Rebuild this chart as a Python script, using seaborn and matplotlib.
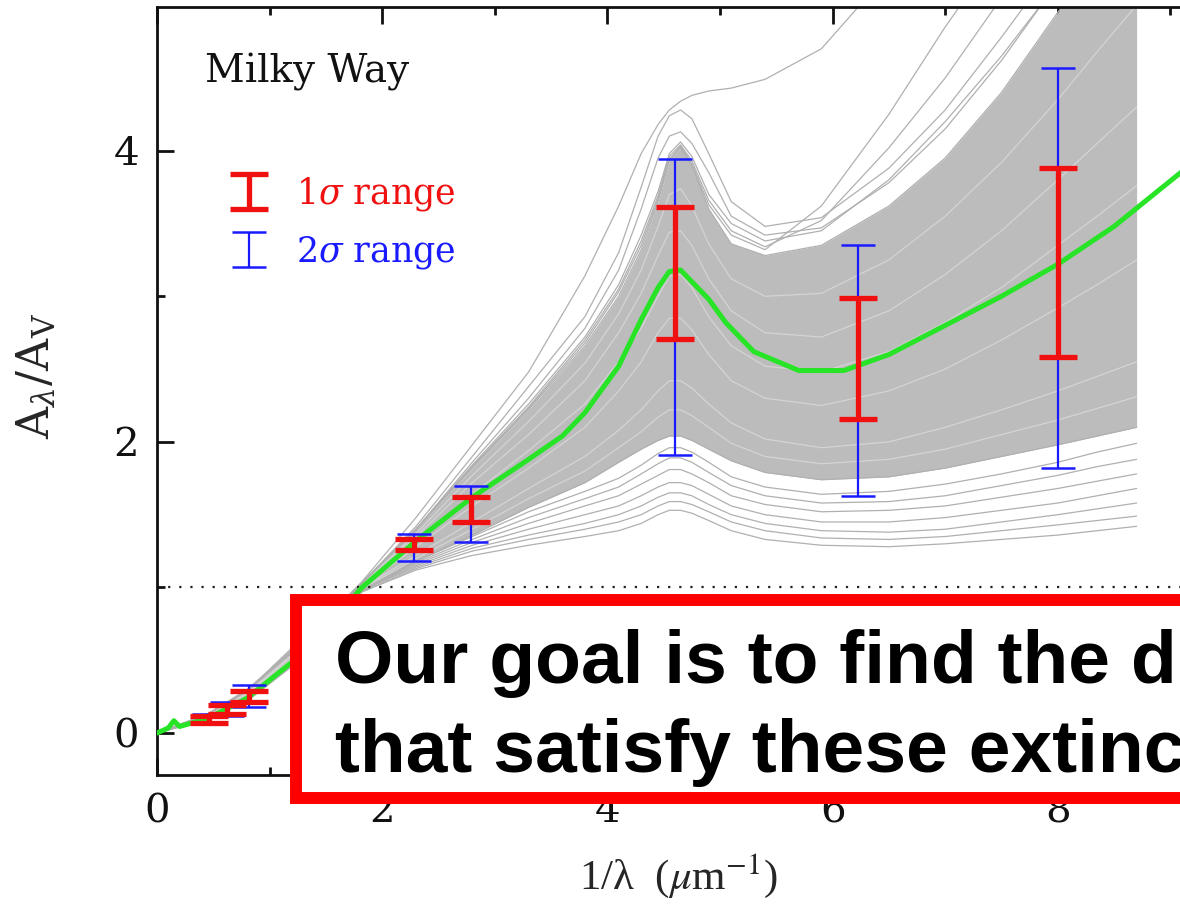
import numpy as np
import pandas as pd
import matplotlib
matplotlib.use("Agg")
import matplotlib.pyplot as plt
from matplotlib.patches import Rectangle
from matplotlib.ticker import FixedLocator
import seaborn as sns

# ---------------------------------------------------------------
# Extinction curves A_lambda / A_V versus inverse wavelength (1/micron)
# ---------------------------------------------------------------

# common wavenumber grid of the model curves
grid_x = [0.0, 0.45, 0.8, 1.3, 1.82, 2.3, 2.8, 3.3, 3.8, 4.1, 4.3, 4.45, 4.55,
          4.65, 4.75, 4.9, 5.1, 5.4, 5.9, 6.5, 7.0, 7.5, 8.0, 8.35, 8.7]

# envelope of the dense bundle of model curves
core_upper = [0.0, 0.13, 0.29, 0.66, 1.03, 1.40, 1.82, 2.22, 2.66, 3.00, 3.32,
              3.65, 3.93, 4.02, 3.90, 3.60, 3.36, 3.28, 3.35, 3.62, 3.95, 4.40,
              4.95, 5.30, 5.70]
core_lower = [0.0, 0.10, 0.23, 0.53, 0.98, 1.18, 1.36, 1.55, 1.72, 1.86, 1.95,
              2.01, 2.04, 2.04, 2.01, 1.95, 1.87, 1.79, 1.74, 1.76, 1.82, 1.90,
              1.98, 2.04, 2.10]

# individual curves below the bundle (flattest UV rise)
low_0 = [0.0, 0.10, 0.22, 0.52, 0.97, 1.12, 1.22, 1.29, 1.35, 1.39, 1.44, 1.50,
         1.53, 1.53, 1.51, 1.46, 1.39, 1.33, 1.29, 1.28, 1.30, 1.33, 1.36, 1.39, 1.42]
low_1 = [0.0, 0.10, 0.22, 0.52, 0.97, 1.13, 1.25, 1.33, 1.40, 1.45, 1.50, 1.56,
         1.59, 1.59, 1.57, 1.52, 1.45, 1.39, 1.34, 1.33, 1.35, 1.39, 1.43, 1.46, 1.49]
low_2 = [0.0, 0.10, 0.22, 0.53, 0.98, 1.14, 1.27, 1.36, 1.44, 1.50, 1.56, 1.62,
         1.65, 1.65, 1.63, 1.57, 1.50, 1.44, 1.39, 1.38, 1.40, 1.45, 1.50, 1.54, 1.58]
low_3 = [0.0, 0.10, 0.23, 0.53, 0.98, 1.15, 1.29, 1.40, 1.50, 1.56, 1.63, 1.69,
         1.72, 1.72, 1.70, 1.64, 1.56, 1.50, 1.45, 1.45, 1.48, 1.53, 1.58, 1.63, 1.68]
low_4 = [0.0, 0.10, 0.23, 0.53, 0.98, 1.16, 1.31, 1.44, 1.56, 1.63, 1.71, 1.77,
         1.81, 1.81, 1.78, 1.72, 1.63, 1.57, 1.52, 1.53, 1.56, 1.62, 1.68, 1.73, 1.78]
low_5 = [0.0, 0.10, 0.23, 0.54, 0.98, 1.17, 1.33, 1.48, 1.61, 1.69, 1.78, 1.85,
         1.89, 1.89, 1.86, 1.79, 1.70, 1.63, 1.58, 1.59, 1.63, 1.70, 1.77, 1.83, 1.88]
low_6 = [0.0, 0.10, 0.23, 0.54, 0.98, 1.18, 1.35, 1.52, 1.66, 1.75, 1.84, 1.92,
         1.96, 1.96, 1.93, 1.86, 1.76, 1.69, 1.64, 1.66, 1.71, 1.78, 1.86, 1.93, 1.99]

# a few curves running through the bundle
inner_0 = [0.0, 0.11, 0.24, 0.56, 1.00, 1.22, 1.45, 1.68, 1.90, 2.08, 2.22, 2.35,
           2.42, 2.42, 2.37, 2.26, 2.13, 2.02, 1.96, 2.00, 2.10, 2.22, 2.35, 2.45, 2.55]
inner_1 = [0.0, 0.11, 0.25, 0.58, 1.00, 1.28, 1.56, 1.82, 2.10, 2.35, 2.55, 2.75,
           2.85, 2.85, 2.77, 2.60, 2.42, 2.30, 2.25, 2.35, 2.50, 2.70, 2.92, 3.08, 3.25]
inner_2 = [0.0, 0.12, 0.27, 0.61, 1.01, 1.35, 1.72, 2.05, 2.42, 2.75, 3.02, 3.28,
           3.44, 3.45, 3.35, 3.12, 2.90, 2.75, 2.72, 2.90, 3.15, 3.45, 3.80, 4.05, 4.30]
inner_3 = [0.0, 0.11, 0.24, 0.55, 0.99, 1.20, 1.40, 1.61, 1.80, 1.96, 2.07, 2.17,
           2.22, 2.22, 2.18, 2.10, 1.99, 1.90, 1.85, 1.88, 1.95, 2.05, 2.15, 2.23, 2.31]
inner_4 = [0.0, 0.12, 0.26, 0.60, 1.01, 1.32, 1.64, 1.94, 2.26, 2.55, 2.78, 3.00,
           3.14, 3.15, 3.06, 2.86, 2.66, 2.52, 2.48, 2.62, 2.82, 3.06, 3.35, 3.55, 3.76]
inner_5 = [0.0, 0.12, 0.28, 0.63, 1.02, 1.37, 1.77, 2.14, 2.54, 2.88, 3.18, 3.48,
           3.70, 3.74, 3.62, 3.36, 3.12, 3.00, 3.02, 3.25, 3.55, 3.92, 4.35, 4.68, 5.00]

# individual curves above the bundle (strongest bump / steepest rise)
top_x = [0.0, 0.45, 0.8, 1.3, 1.82, 2.3, 2.8, 3.3, 3.8, 4.1, 4.3, 4.45, 4.55,
         4.65, 4.75, 4.9, 5.1, 5.4, 5.9, 6.3]
high_0 = [0.0, 0.13, 0.30, 0.63, 1.04, 1.48, 1.98, 2.48, 3.14, 3.62, 3.98, 4.18,
          4.28, 4.34, 4.38, 4.41, 4.43, 4.49, 4.70, 5.05]
rise_x = [0.0, 0.45, 0.8, 1.3, 1.82, 2.3, 2.8, 3.3, 3.8, 4.1, 4.3, 4.45, 4.55,
          4.65, 4.75, 4.9, 5.1, 5.4, 5.9, 6.5, 7.0, 7.5, 7.9]
high_1 = [0.0, 0.13, 0.29, 0.62, 1.03, 1.42, 1.90, 2.38, 2.86, 3.30, 3.75, 4.10,
          4.24, 4.28, 4.22, 3.98, 3.65, 3.48, 3.54, 3.88, 4.28, 4.78, 5.20]
high_2 = [0.0, 0.13, 0.29, 0.62, 1.03, 1.40, 1.86, 2.30, 2.78, 3.18, 3.60, 3.95,
          4.10, 4.13, 4.05, 3.85, 3.55, 3.42, 3.47, 3.78, 4.15, 4.62, 5.05]
high_3 = [0.0, 0.13, 0.29, 0.64, 1.03, 1.40, 1.84, 2.26, 2.72, 3.08, 3.42, 3.72,
          3.98, 4.06, 3.96, 3.70, 3.50, 3.38, 3.45, 3.80, 4.20, 4.65, 5.05]
high_4 = [0.0, 0.13, 0.29, 0.64, 1.03, 1.40, 1.83, 2.24, 2.70, 3.05, 3.38, 3.69,
          3.96, 4.04, 3.93, 3.66, 3.45, 3.34, 3.52, 4.02, 4.50, 5.05, 5.50]
high_5 = [0.0, 0.13, 0.29, 0.64, 1.03, 1.40, 1.83, 2.23, 2.68, 3.03, 3.35, 3.67,
          3.94, 4.03, 3.91, 3.63, 3.42, 3.32, 3.62, 4.25, 4.85, 5.40, 5.80]

# mean Milky Way extinction curve
mean_x = [0.0, 0.1, 0.15, 0.2, 0.45, 0.8, 1.3, 1.82, 2.3, 2.8, 3.3, 3.6, 3.8, 4.1,
          4.3, 4.45, 4.55, 4.65, 4.75, 4.9, 5.05, 5.3, 5.7, 6.1, 6.5, 7.0, 7.5,
          8.0, 8.5, 9.3]
mean_y = [0.0, 0.035, 0.085, 0.045, 0.10, 0.24, 0.55, 1.0, 1.32, 1.62, 1.88, 2.04,
          2.20, 2.52, 2.84, 3.06, 3.17, 3.18, 3.10, 2.98, 2.82, 2.62, 2.49, 2.49,
          2.60, 2.80, 3.00, 3.22, 3.48, 3.98]

# observational constraints: band positions with 1-sigma and 2-sigma ranges
band_x = [0.46, 0.62, 0.82, 2.28, 2.79, 4.60, 6.23, 8.00]
sig1_lo = [0.07, 0.13, 0.21, 1.26, 1.45, 2.71, 2.16, 2.58]
sig1_hi = [0.12, 0.19, 0.29, 1.33, 1.62, 3.61, 2.99, 3.88]
sig2_lo = [0.06, 0.12, 0.18, 1.18, 1.31, 1.91, 1.63, 1.82]
sig2_hi = [0.13, 0.21, 0.33, 1.37, 1.70, 3.94, 3.35, 4.57]

x_major = [0, 2, 4, 6, 8]
x_minor = [1, 3, 5, 7, 9]
y_major = [0, 2, 4]
y_minor = [1, 3]

panel_name = "Milky Way"
legend_labels = [r"1$\sigma$ range", r"2$\sigma$ range"]
x_label = r"1/λ  ($\mu$m$^{-1}$)"
y_label = r"A$_\lambda$/A$_{\rm V}$"
note_lines = ["Our goal is to find the dust models",
              "that satisfy these extinction curves"]

# ---------------------------------------------------------------
sns.set_theme(style="ticks")
plt.rcParams["font.family"] = ["DejaVu Serif"]
plt.rcParams["mathtext.fontset"] = "dejavuserif"
plt.rcParams["axes.linewidth"] = 2.0

W, H = 1180, 906
fig = plt.figure(figsize=(W / 100, H / 100), dpi=100)
fig.patch.set_facecolor("white")
ax = fig.add_axes([157 / W, 131 / H, 1126 / W, 768 / H])
ax.set_facecolor("white")
ax.set_xlim(0, 10)
ax.set_ylim(-0.288, 4.987)

# dense bundle of model curves
grey = "#b0b0b0"
ax.fill_between(grid_x, core_lower, core_upper, color="#bcbcbc", lw=0, zorder=1)

inner = []
for name, ys in [("i0", inner_0), ("i1", inner_1), ("i2", inner_2),
                 ("i3", inner_3), ("i4", inner_4), ("i5", inner_5)]:
    inner += [(name, x, y) for x, y in zip(grid_x, ys)]
inner = pd.DataFrame(inner, columns=["curve", "x", "y"])
sns.lineplot(data=inner, x="x", y="y", units="curve", estimator=None,
             sort=False, color="#d4d4d4", lw=0.9, ax=ax, zorder=2, legend=False)

rows = []
for name, ys in [("l0", low_0), ("l1", low_1), ("l2", low_2), ("l3", low_3),
                 ("l4", low_4), ("l5", low_5), ("l6", low_6),
                 ("u", core_upper), ("b", core_lower)]:
    rows += [(name, x, y) for x, y in zip(grid_x, ys)]
rows += [("h0", x, y) for x, y in zip(top_x, high_0)]
for name, ys in [("h1", high_1), ("h2", high_2), ("h3", high_3),
                 ("h4", high_4), ("h5", high_5)]:
    rows += [(name, x, y) for x, y in zip(rise_x, ys)]
curves = pd.DataFrame(rows, columns=["curve", "x", "y"])
sns.lineplot(data=curves, x="x", y="y", units="curve", estimator=None,
             sort=False, color=grey, lw=0.9, ax=ax, zorder=2, legend=False)

# reference line A_lambda = A_V
ax.axhline(1.0, color="#222222", lw=1.6, ls=(0, (1, 4)), zorder=2)

# mean curve
sns.lineplot(x=mean_x, y=mean_y, color="#27e427", lw=3.6, ax=ax,
             sort=False, zorder=4)

# error bars
bx = np.array(band_x)
c2 = (np.array(sig2_lo) + np.array(sig2_hi)) / 2
c1 = (np.array(sig1_lo) + np.array(sig1_hi)) / 2
eb2 = ax.errorbar(bx, c2, yerr=[c2 - np.array(sig2_lo), np.array(sig2_hi) - c2],
                  fmt="none", ecolor="#1a1aff", elinewidth=1.6, capsize=12,
                  capthick=1.8, zorder=5)
eb1 = ax.errorbar(bx, c1, yerr=[c1 - np.array(sig1_lo), np.array(sig1_hi) - c1],
                  fmt="none", ecolor="#f01010", elinewidth=3.8, capsize=14,
                  capthick=3.8, zorder=6)

leg = ax.legend([eb1, eb2], legend_labels, loc="upper left",
                bbox_to_anchor=(0.042, 0.822), frameon=False, fontsize=25,
                handlelength=0.8, handletextpad=0.95, labelspacing=0.62)
for txt, col in zip(leg.get_texts(), ["#f01010", "#1a1aff"]):
    txt.set_color(col)

ax.text(0.043, 0.916, panel_name, transform=ax.transAxes, fontsize=28,
        va="center", ha="left", color="#111111")

# axes cosmetics
ax.xaxis.set_major_locator(FixedLocator(x_major))
ax.xaxis.set_minor_locator(FixedLocator(x_minor))
ax.yaxis.set_major_locator(FixedLocator(y_major))
ax.yaxis.set_minor_locator(FixedLocator(y_minor))
ax.tick_params(which="both", direction="in", top=True, right=True,
               width=2.0, labelsize=29, colors="#111111")
ax.tick_params(which="major", length=12, pad=13)
ax.tick_params(which="minor", length=6)
for s in ax.spines.values():
    s.set_color("#111111")

ax.set_xlabel(x_label, fontsize=31, family="Liberation Serif",
              math_fontfamily="stix")
ax.xaxis.set_label_coords(0.463, -0.1)
ax.xaxis.label.set_va("top")
ax.set_ylabel(y_label, fontsize=32)
ax.yaxis.set_label_coords(-0.088, 0.52)

# highlighted note
fig.add_artist(Rectangle((296 / W, (H - 798) / H), 1.0, (798 - 600) / H,
                         transform=fig.transFigure, facecolor="white",
                         edgecolor="#ff0000", lw=8.6, zorder=5))
fig.text(335 / W, (H - 683) / H, note_lines[0], fontsize=54, fontweight="bold",
         family="Liberation Sans", va="baseline", ha="left", color="black",
         zorder=6)
fig.text(335 / W, (H - 772) / H, note_lines[1], fontsize=54, fontweight="bold",
         family="Liberation Sans", va="baseline", ha="left", color="black",
         zorder=6)

fig.savefig("out.png", dpi=100, facecolor="white")
